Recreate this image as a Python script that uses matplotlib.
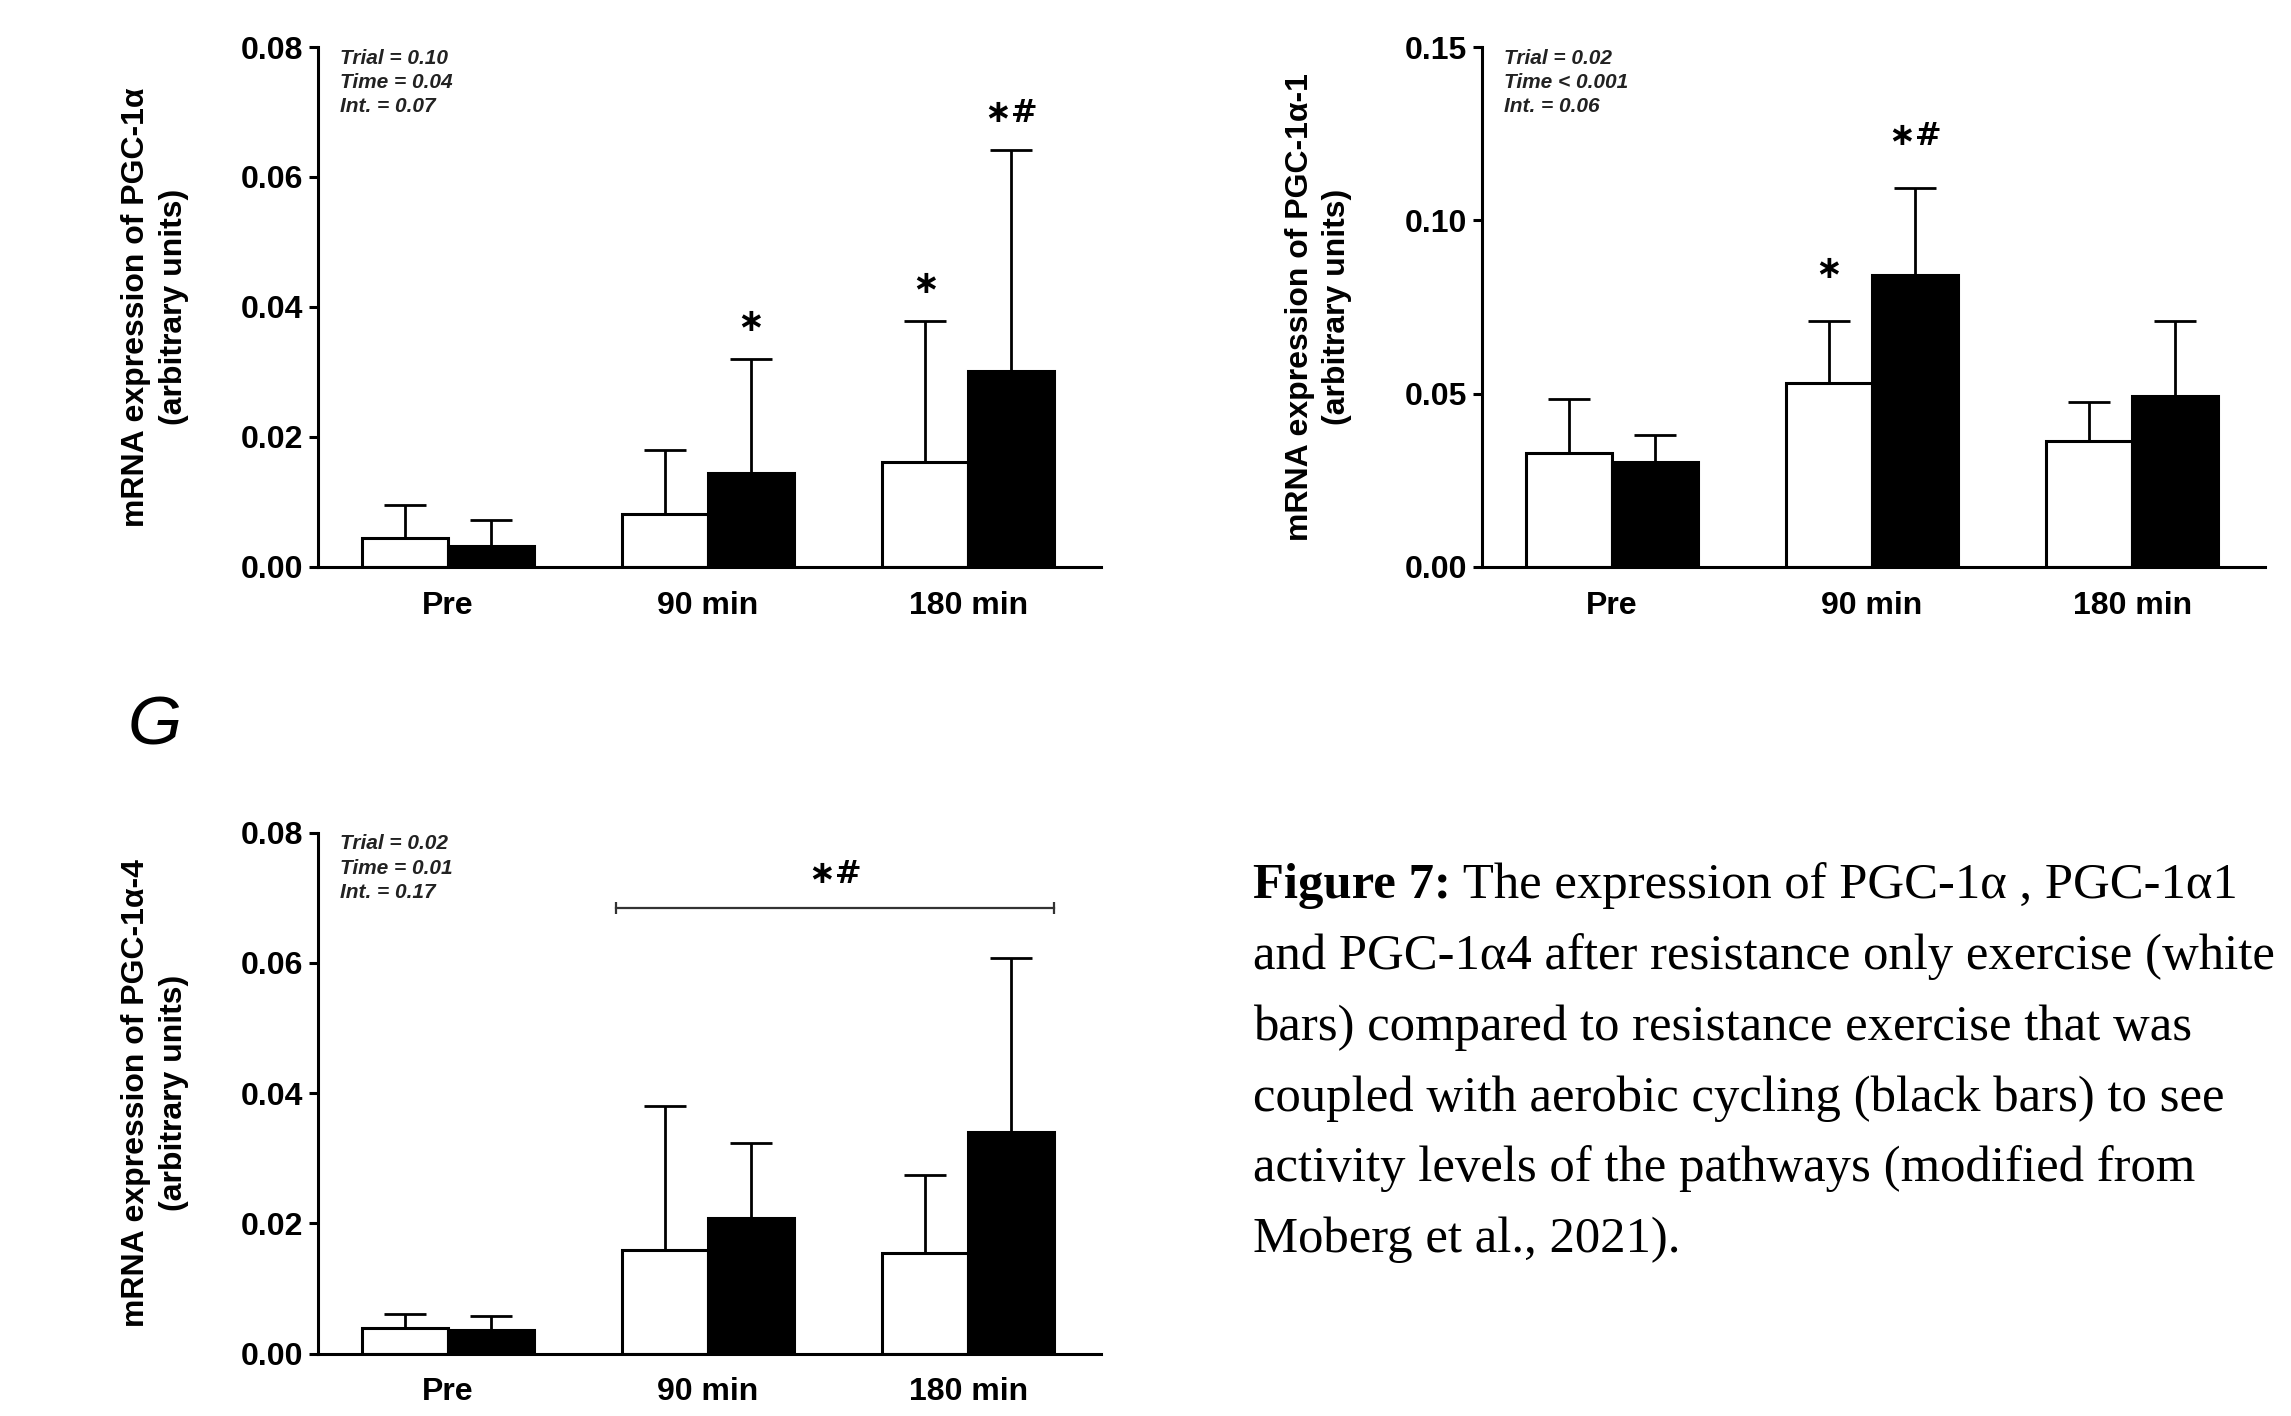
import numpy as np
import matplotlib.pyplot as plt

plt.rcParams['font.family'] = ['Liberation Sans', 'DejaVu Sans']

times = ['Pre', '90 min', '180 min']

# PGC-1alpha (white = resistance only, black = resistance + cycling)
pgc1a_res = [0.0044, 0.0081, 0.0162]
pgc1a_res_sd = [0.0051, 0.0099, 0.0216]
pgc1a_comb = [0.0033, 0.0144, 0.0302]
pgc1a_comb_sd = [0.0040, 0.0176, 0.0339]

# PGC-1alpha-1
pgc1a1_res = [0.0330, 0.0532, 0.0364]
pgc1a1_res_sd = [0.0156, 0.0177, 0.0111]
pgc1a1_comb = [0.0302, 0.0843, 0.0493]
pgc1a1_comb_sd = [0.0080, 0.0250, 0.0216]

# PGC-1alpha-4
pgc1a4_res = [0.0040, 0.0159, 0.0155]
pgc1a4_res_sd = [0.0021, 0.0221, 0.0120]
pgc1a4_comb = [0.0037, 0.0208, 0.0341]
pgc1a4_comb_sd = [0.0021, 0.0116, 0.0267]

stats_a = 'Trial = 0.10\nTime = 0.04\nInt. = 0.07'
stats_b = 'Trial = 0.02\nTime < 0.001\nInt. = 0.06'
stats_g = 'Trial = 0.02\nTime = 0.01\nInt. = 0.17'

caption = ['The expression of PGC-1\u03b1 , PGC-1\u03b11',
           'and PGC-1\u03b14 after resistance only exercise (white',
           'bars) compared to resistance exercise that was',
           'coupled with aerobic cycling (black bars) to see',
           'activity levels of the pathways (modified from',
           'Moberg et al., 2021).']

width = 0.33
fs = 23
star = '\u2217'
star_hash = '\u2217#'
mark_font = ['DejaVu Sans']


def draw_panel(ax, res, res_sd, comb, comb_sd, ymax, yticks, ylabel, stats, marks, pad):
    x = np.arange(len(times))
    ax.errorbar(x - width / 2, res, yerr=[np.zeros(3), res_sd], fmt='none',
                ecolor='black', elinewidth=2, capsize=15, capthick=2, zorder=1)
    ax.errorbar(x + width / 2, comb, yerr=[np.zeros(3), comb_sd], fmt='none',
                ecolor='black', elinewidth=2, capsize=15, capthick=2, zorder=1)
    ax.bar(x - width / 2, res, width, color='white', edgecolor='black', linewidth=2.2, zorder=2)
    ax.bar(x + width / 2, comb, width, color='black', edgecolor='black', linewidth=2.2, zorder=2)

    ax.set_xlim(-0.5, 2.51)
    ax.set_ylim(0, ymax)
    ax.set_yticks(yticks)
    ax.set_yticklabels(['%.2f' % v for v in yticks], fontsize=fs, fontweight='bold')
    ax.set_xticks(x)
    ax.set_xticklabels(times, fontsize=fs, fontweight='bold')
    ax.tick_params(axis='x', length=0, pad=17)
    ax.tick_params(axis='y', length=6.5, width=2.2, pad=4)
    for s in ['top', 'right']:
        ax.spines[s].set_visible(False)
    for s in ['left', 'bottom']:
        ax.spines[s].set_linewidth(2.2)

    lines = ylabel.split('\n')
    ax.text(-0.232, 0.5, lines[0], rotation=90, transform=ax.transAxes,
            ha='center', va='center', fontsize=fs, fontweight='bold')
    ax.text(-0.184, 0.5, lines[1], rotation=90, transform=ax.transAxes,
            ha='center', va='center', fontsize=fs, fontweight='bold')

    ax.text(0.028, 0.997, stats, transform=ax.transAxes, ha='left', va='top',
            fontsize=15, fontweight='bold', style='italic', linespacing=1.36, color='#222222')

    for g, s, lab in marks:
        if s == 0:
            xx, top = g - width / 2, res[g] + res_sd[g]
        else:
            xx, top = g + width / 2, comb[g] + comb_sd[g]
        ax.text(xx, top + pad * ymax, lab, ha='center', va='center',
                fontsize=fs, fontweight='bold', family=mark_font)


fig = plt.figure(figsize=(22.91, 14.16), dpi=100)

ax1 = fig.add_axes([0.1387, 0.5996, 0.3419, 0.3672])
draw_panel(ax1, pgc1a_res, pgc1a_res_sd, pgc1a_comb, pgc1a_comb_sd, 0.08,
           [0, 0.02, 0.04, 0.06, 0.08],
           'mRNA expression of PGC-1\u03b1\n(arbitrary units)', stats_a,
           [(1, 1, star), (2, 0, star), (2, 1, star_hash)], 0.07)

ax2 = fig.add_axes([0.6467, 0.5996, 0.3419, 0.3672])
draw_panel(ax2, pgc1a1_res, pgc1a1_res_sd, pgc1a1_comb, pgc1a1_comb_sd, 0.15,
           [0, 0.05, 0.10, 0.15],
           'mRNA expression of PGC-1\u03b1-1\n(arbitrary units)', stats_b,
           [(1, 0, star), (1, 1, star_hash)], 0.1)

ax3 = fig.add_axes([0.1387, 0.044, 0.3419, 0.368])
draw_panel(ax3, pgc1a4_res, pgc1a4_res_sd, pgc1a4_comb, pgc1a4_comb_sd, 0.08,
           [0, 0.02, 0.04, 0.06, 0.08],
           'mRNA expression of PGC-1\u03b1-4\n(arbitrary units)', stats_g, [], 0)

# bracket across 90 and 180 min
x_left = 1 - width - 0.025
x_right = 2 + width
ax3.plot([x_left, x_right], [0.0685, 0.0685], color='#333333', lw=1.6,
         marker='|', markersize=8, markeredgewidth=1.6)
ax3.text((x_left + x_right) / 2, 0.0735, star_hash, ha='center', va='center',
         fontsize=fs, fontweight='bold', family=mark_font)

fig.text(0.0555, 0.487, 'G', fontsize=50, style='italic', ha='left', va='center')

# caption
cap_x = 0.547
cap_y0 = 0.3655
cap_dy = 70.7 / 1416
cap_fs = 36.5
serif = ['Liberation Serif', 'DejaVu Serif']
t1 = fig.text(cap_x, cap_y0, 'Figure 7:', fontsize=cap_fs, fontweight='bold',
              family=serif, va='baseline')
fig.canvas.draw()
bb = t1.get_window_extent()
fig.text(bb.x1 / fig.bbox.width, cap_y0, ' ' + caption[0], fontsize=cap_fs,
         family=serif, va='baseline')
for i, line in enumerate(caption[1:]):
    fig.text(cap_x, cap_y0 - (i + 1) * cap_dy, line, fontsize=cap_fs,
             family=serif, va='baseline')

fig.savefig('out.png', dpi=100)
